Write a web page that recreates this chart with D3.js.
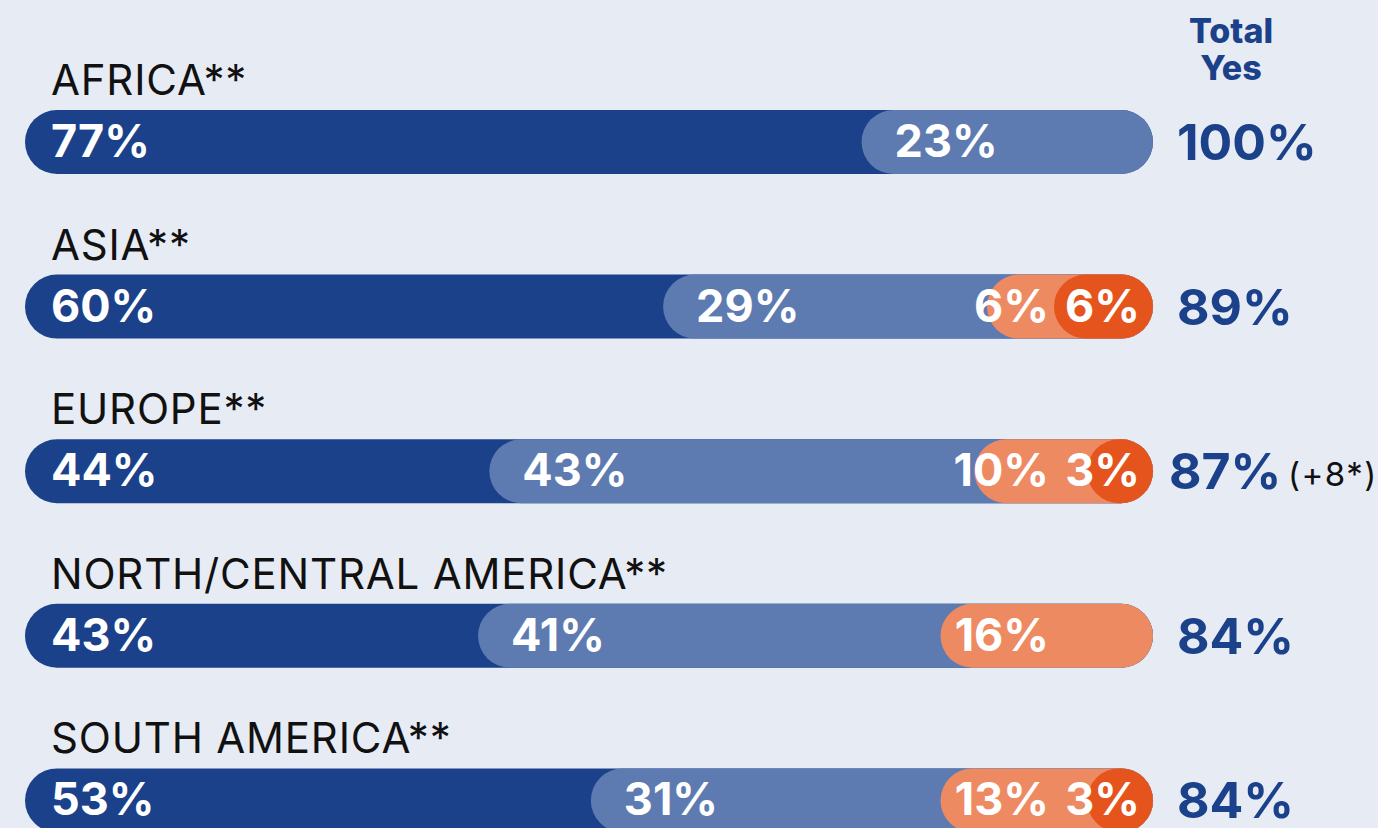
<!DOCTYPE html>
<html>
<head>
<meta charset="utf-8">
<script src="https://cdn.jsdelivr.net/npm/d3@7"></script>
<style>
  html, body { margin: 0; padding: 0; background: #e7ebf4; }
  svg { display: block; }
  text { font-family: "Inter", "Lato", sans-serif; }
</style>
</head>
<body>
<svg id="chart" width="1378" height="828"></svg>
<script>
// Share of answers per region, split into four answer groups
const regions = ["AFRICA**", "ASIA**", "EUROPE**", "NORTH/CENTRAL AMERICA**", "SOUTH AMERICA**"];
const groups = ["yesDefinitely", "yesProbably", "noProbably", "noDefinitely"];
const yesDefinitely = [77, 60, 44, 43, 53];
const yesProbably   = [23, 29, 43, 41, 31];
const noProbably    = [0, 6, 10, 16, 13];
const noDefinitely  = [0, 6, 3, 0, 3];
const totalYes      = [100, 89, 87, 84, 84];
const totalNotes    = ["", "", "(+8*)", "", ""];
const totalHeader   = ["Total", "Yes"];

const colors = {
  yesDefinitely: "#1b418a",
  yesProbably:   "#5e7bb1",
  noProbably:    "#ee8a62",
  noDefinitely:  "#e5541c"
};

const seriesValues = { yesDefinitely, yesProbably, noProbably, noDefinitely };

const svg = d3.select("#chart");

const barLeft = 25, barRight = 1153;
const barH = 64, r = barH / 2;

const y = d3.scaleBand()
  .domain(regions)
  .range([110, 110 + 164.6 * regions.length])
  .paddingInner(0);

const rows = regions.map((name, i) => {
  const vals = groups.map(g => ({ group: g, value: seriesValues[g][i] }));
  let cum = 0;
  vals.forEach(v => { v.start = cum; cum += v.value; v.end = cum; });
  return { name, i, vals: vals.filter(v => v.value > 0), sum: cum };
});

const row = svg.selectAll("g.row")
  .data(rows)
  .join("g")
  .attr("class", "row")
  .attr("transform", d => `translate(0,${y(d.name)})`);

// region names above each bar
row.append("text")
  .attr("x", 51)
  .attr("y", -15)
  .attr("font-size", 42)
  .attr("font-weight", 400)
  .attr("letter-spacing", 0.8)
  .attr("fill", "#111")
  .text(d => d.name);

// stacked pills: each later segment overlaps the previous with a rounded left end
row.each(function (d) {
  const g = d3.select(this);
  const x = d3.scaleLinear().domain([0, d.sum]).range([barLeft, barRight]);

  g.selectAll("rect.seg")
    .data(d.vals)
    .join("rect")
    .attr("class", "seg")
    .attr("x", (v, k) => k === 0 ? x(0) : x(v.start) - r)
    .attr("y", 0)
    .attr("width", (v, k) => x(d.sum) - (k === 0 ? x(0) : x(v.start) - r))
    .attr("height", barH)
    .attr("rx", r)
    .attr("ry", r)
    .attr("fill", v => colors[v.group]);

  g.selectAll("text.val")
    .data(d.vals)
    .join("text")
    .attr("class", "val")
    .attr("x", v => {
      if (v.group === "yesDefinitely") return x(v.start) + 26;
      if (v.group === "yesProbably") return x(v.start) + 1;
      if (v.group === "noProbably") return x(d.sum) - 104;
      return x(d.sum) - 13;
    })
    .attr("text-anchor", v => (v.group === "noProbably" || v.group === "noDefinitely") ? "end" : "start")
    .attr("y", r + 15)
    .attr("font-size", 45)
    .attr("font-weight", 700)
    .attr("fill", "#fff")
    .text(v => v.value + "%");
});

// total "yes" column
row.append("text")
  .attr("x", d => totalNotes[d.i] ? 1169 : 1177)
  .attr("y", r + 18)
  .attr("font-size", 50)
  .attr("font-weight", 700)
  .attr("fill", "#1b418a")
  .text(d => totalYes[d.i] + "%");

row.filter(d => totalNotes[d.i] !== "")
  .append("text")
  .attr("x", 1288)
  .attr("y", r + 15)
  .attr("font-size", 33)
  .attr("font-weight", 400)
  .attr("letter-spacing", 1.5)
  .attr("fill", "#111")
  .text(d => totalNotes[d.i]);

// column header
svg.selectAll("text.header")
  .data(totalHeader)
  .join("text")
  .attr("class", "header")
  .attr("x", 1231)
  .attr("y", (d, i) => 43 + i * 37)
  .attr("text-anchor", "middle")
  .attr("font-size", 34)
  .attr("font-weight", 800)
  .attr("fill", "#1b418a")
  .text(d => d);
</script>
</body>
</html>
